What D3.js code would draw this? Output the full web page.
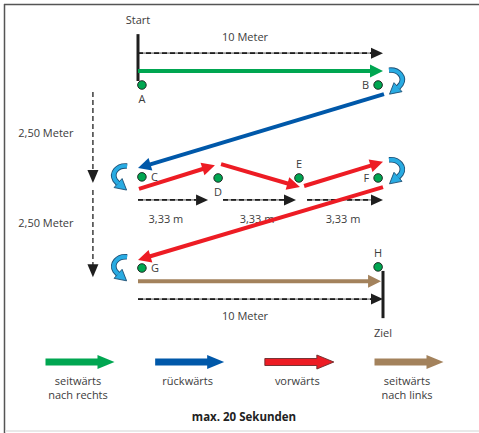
<!DOCTYPE html>
<html>
<head>
<meta charset="utf-8">
<script src="https://cdnjs.cloudflare.com/ajax/libs/d3/7.8.5/d3.min.js"></script>
<style>
body { margin: 0; background: #fff; }
text { font-family: "Open Sans", "Noto Sans", sans-serif; font-size: 11px; fill: #3c3c3c; }
</style>
</head>
<body>
<svg id="graphique" width="479" height="433"></svg>
<script>
// alle werte in meter (x = entlang der bahn, y = quer dazu)
var stationNames = ["A", "B", "C", "D", "E", "F", "G", "H"];
var stationX = [0.16, 9.8, 0.16, 3.27, 6.57, 9.8, 0.16, 9.8];
var stationY = [0, 0, 2.51, 2.54, 2.54, 2.54, 5.0, 4.97];
var stationSide = ["below", "left", "right", "below", "above", "left", "right", "above"];

// laufwege
var moveKinds = ["seitwärts nach rechts", "rückwärts", "vorwärts", "seitwärts nach links"];
var moveKind = [0, 1, 2, 2, 2, 2, 3];
var moveX1 = [0, 10.04, 0.04, 3.39, 6.78, 10, 0];
var moveY1 = [-0.38, 0.25, 2.84, 2.16, 2.76, 2.79, 5.36];
var moveX2 = [10, 0, 3.14, 6.61, 10, 0, 9.92];
var moveY2 = [-0.38, 2.27, 2.19, 2.79, 2.10, 4.78, 5.36];

// bemassung
var measureLabels = ["10 Meter", "3,33 m", "3,33 m", "3,33 m", "10 Meter"];
var measureX1 = [0, 0, 3.47, 6.9, 0];
var measureX2 = [10, 2.86, 6.45, 10, 10];
var measureY = [-0.87, 3.14, 3.14, 3.14, 5.85];
var measureLabelX = [4.37, 1.14, 4.86, 8.37, 4.37];
var measureLabelY = [-1.31, 3.66, 3.66, 3.66, 6.31];

var laneLabels = ["2,50 Meter", "2,50 Meter"];
var laneX = -1.84;
var laneY1 = [0.19, 2.87];
var laneY2 = [2.68, 5.25];
var laneLabelX = -3.76;
var laneLabelY = [1.31, 3.77];

var gateNames = ["Start", "Ziel"];
var gateX = [0, 10];
var gateY1 = [-1.39, 5.08];
var gateY2 = [-0.11, 6.37];

// wendepunkte
var turnX = [10.49, -0.69, 10.49, -0.69];
var turnY = [-0.05, 2.57, 2.40, 5.05];
var turnDir = [1, -1, 1, -1];

var legendLines = [["seitwärts", "nach rechts"], ["rückwärts"], ["vorwärts"], ["seitwärts", "nach links"]];
var footer = "max. 20 Sekunden";

var graphique = d3.select("#graphique");

var xScale = d3.scaleLinear().domain([0, 10]).range([138, 383]);
var yScale = d3.scaleLinear().domain([0, 5]).range([85, 268]);
var couleur = d3.scaleOrdinal().domain(moveKinds).range(["#00a651", "#0058a9", "#ed1c24", "#a3825c"]);

// rahmen
graphique.append("line").attr("x1", 4).attr("y1", 4.5).attr("x2", 479).attr("y2", 4.5)
	.attr("stroke", "#555").attr("stroke-width", 1.5);
graphique.append("line").attr("x1", 4.5).attr("y1", 4).attr("x2", 4.5).attr("y2", 433)
	.attr("stroke", "#555").attr("stroke-width", 1.5);
graphique.append("line").attr("x1", 5).attr("y1", 431).attr("x2", 479).attr("y2", 431)
	.attr("stroke", "#e2e2e2").attr("stroke-width", 1.5);

function drawArrow(x1, y1, x2, y2, color, width, headLen, headW) {
	var dx = x2 - x1, dy = y2 - y1;
	var len = Math.sqrt(dx * dx + dy * dy);
	var ux = dx / len, uy = dy / len;
	var bx = x2 - ux * headLen, by = y2 - uy * headLen;
	graphique.append("line")
		.attr("x1", x1).attr("y1", y1).attr("x2", bx + ux).attr("y2", by + uy)
		.attr("stroke", color).attr("stroke-width", width);
	graphique.append("polygon")
		.attr("points", [[x2, y2], [bx - uy * headW, by + ux * headW], [bx + uy * headW, by - ux * headW]].join(" "))
		.attr("fill", color);
}

function drawDashed(x1, y1, x2, y2) {
	var dx = x2 - x1, dy = y2 - y1;
	var len = Math.sqrt(dx * dx + dy * dy);
	var ux = dx / len, uy = dy / len;
	var bx = x2 - ux * 12, by = y2 - uy * 12;
	graphique.append("line")
		.attr("x1", x1).attr("y1", y1).attr("x2", bx).attr("y2", by)
		.attr("stroke", "#9a9a9a").attr("stroke-width", 1.8);
	graphique.append("line")
		.attr("x1", x1).attr("y1", y1).attr("x2", bx).attr("y2", by)
		.attr("stroke", "#1e1e1e").attr("stroke-width", 1.8).attr("stroke-dasharray", "5,3");
	graphique.append("polygon")
		.attr("points", [[x2, y2], [bx - uy * 5.5, by + ux * 5.5], [bx + uy * 5.5, by - ux * 5.5]].join(" "))
		.attr("fill", "#1e1e1e");
}

// bemassung oben / mitte / unten
for (var i = 0; i < measureLabels.length; i++) {
	drawDashed(xScale(measureX1[i]), yScale(measureY[i]), xScale(measureX2[i]), yScale(measureY[i]));
	graphique.append("text")
		.attr("x", xScale(measureLabelX[i])).attr("y", yScale(measureLabelY[i]))
		.attr("text-anchor", "middle").attr("dy", "0.35em")
		.text(measureLabels[i]);
}

// 2,50 meter
for (var i = 0; i < laneLabels.length; i++) {
	var lx = xScale(laneX);
	graphique.append("line")
		.attr("x1", lx).attr("y1", yScale(laneY1[i])).attr("x2", lx).attr("y2", yScale(laneY2[i]) - 12)
		.attr("stroke", "#1e1e1e").attr("stroke-width", 1.3).attr("stroke-dasharray", "5,3");
	graphique.append("polygon")
		.attr("points", [[lx, yScale(laneY2[i])], [lx - 5.5, yScale(laneY2[i]) - 13], [lx + 5.5, yScale(laneY2[i]) - 13]].join(" "))
		.attr("fill", "#1e1e1e");
	graphique.append("text")
		.attr("x", xScale(laneLabelX)).attr("y", yScale(laneLabelY[i]))
		.attr("text-anchor", "middle").attr("dy", "0.35em")
		.text(laneLabels[i]);
}

// start + ziel
for (var i = 0; i < gateNames.length; i++) {
	graphique.append("line")
		.attr("x1", xScale(gateX[i])).attr("y1", yScale(gateY1[i]))
		.attr("x2", xScale(gateX[i])).attr("y2", yScale(gateY2[i]))
		.attr("stroke", "#1e1e1e").attr("stroke-width", 3);
	graphique.append("text")
		.attr("x", xScale(gateX[i]))
		.attr("y", i == 0 ? yScale(gateY1[i]) - 14 : yScale(gateY2[i]) + 15)
		.attr("text-anchor", "middle").attr("dy", "0.35em")
		.text(gateNames[i]);
}

// laufwege
for (var i = 0; i < moveKind.length; i++) {
	drawArrow(xScale(moveX1[i]), yScale(moveY1[i]), xScale(moveX2[i]), yScale(moveY2[i]),
		couleur(moveKinds[moveKind[i]]), 4, 13, 6.5);
}

// wende-pfeile
for (var i = 0; i < turnX.length; i++) {
	var t = graphique.append("g")
		.attr("transform", "translate(" + xScale(turnX[i]) + "," + yScale(turnY[i]) + ") scale(" + turnDir[i] + ",1)");
	var arc = "M-6,-13 C4,-14 10,-6 6,1 L3,4.5";
	t.append("path").attr("d", arc).attr("fill", "none").attr("stroke", "#1d4e73").attr("stroke-width", 5.6);
	t.append("polygon").attr("points", "-5.5,11 7,8.5 -1,-0.5")
		.attr("fill", "#29abe2").attr("stroke", "#1d4e73").attr("stroke-width", 0.9).attr("stroke-linejoin", "round");
	t.append("path").attr("d", arc).attr("fill", "none").attr("stroke", "#29abe2").attr("stroke-width", 3.8);
}

// stationen
for (var i = 0; i < stationNames.length; i++) {
	var cx = xScale(stationX[i]), cy = yScale(stationY[i]);
	graphique.append("circle")
		.attr("cx", cx).attr("cy", cy).attr("r", 4.3)
		.attr("fill", "#00a651").attr("stroke", "#1a1a1a").attr("stroke-width", 0.9);
	var tx = cx, ty = cy, anchor = "middle";
	if (stationSide[i] == "below") ty = cy + 14;
	if (stationSide[i] == "above") ty = cy - 14;
	if (stationSide[i] == "left") { tx = cx - 9; anchor = "end"; }
	if (stationSide[i] == "right") { tx = cx + 9; anchor = "start"; }
	graphique.append("text")
		.attr("x", tx).attr("y", ty).attr("text-anchor", anchor).attr("dy", "0.35em")
		.text(stationNames[i]);
}

// legende
var legendX = d3.scalePoint().domain(moveKinds).range([80, 409]);
for (var i = 0; i < moveKinds.length; i++) {
	var mx = legendX(moveKinds[i]);
	var x0 = mx - 34.5, x1 = mx + 34.5, ly = 362;
	graphique.append("polygon")
		.attr("points", [[x0, ly - 3.5], [x1 - 17, ly - 3.5], [x1 - 17, ly - 7], [x1, ly], [x1 - 17, ly + 7], [x1 - 17, ly + 3.5], [x0, ly + 3.5]].join(" "))
		.attr("fill", couleur(moveKinds[i]))
		.attr("stroke", i == 2 ? "#6b2a2a" : "none").attr("stroke-width", 0.9);
	for (var j = 0; j < legendLines[i].length; j++) {
		graphique.append("text")
			.attr("x", mx - 2).attr("y", 381 + j * 14)
			.attr("text-anchor", "middle").attr("dy", "0.35em")
			.text(legendLines[i][j]);
	}
}

graphique.append("text")
	.attr("x", 244).attr("y", 417)
	.attr("text-anchor", "middle").attr("dy", "0.35em")
	.style("font-weight", "bold").style("font-size", "11.5px").style("fill", "#222")
	.text(footer);
</script>
</body>
</html>
